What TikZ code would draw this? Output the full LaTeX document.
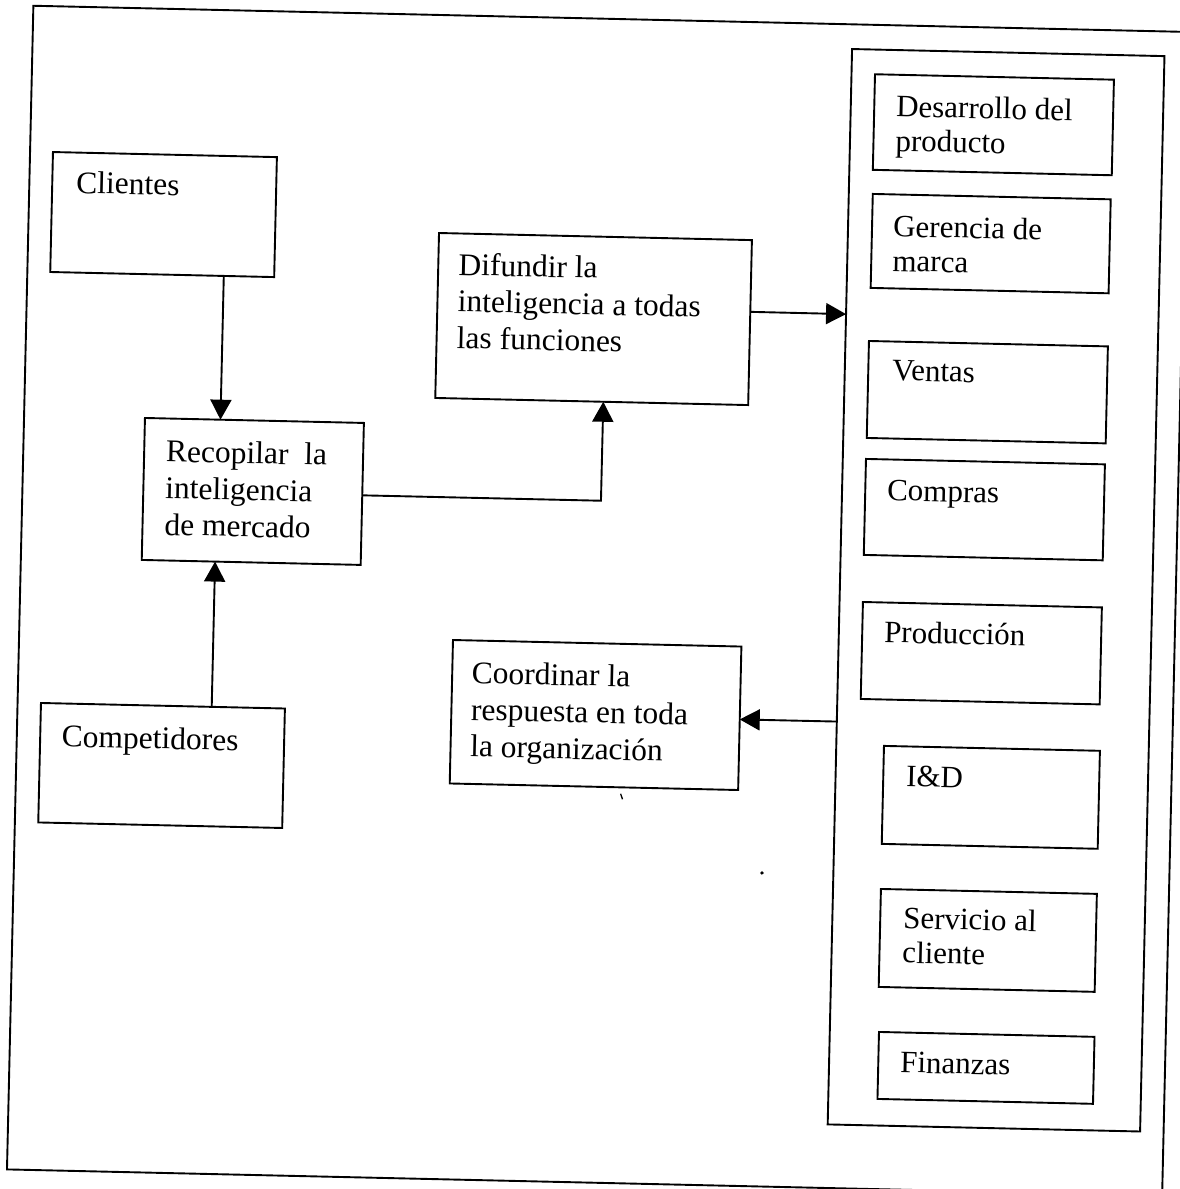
\documentclass[tikz,border=0pt]{standalone}
\usepackage{fontspec}
\setmainfont{Liberation Serif}
\usetikzlibrary{arrows.meta,calc}
% left-aligned stack of lines whose baseline is the first line
\newcommand{\txtlines}[1]{\begin{tabular}[t]{@{}l@{}}#1\end{tabular}}
\begin{document}
\begin{tikzpicture}[x=1pt,y=-1pt,
  box/.style={draw, line width=1.9pt, rectangle, inner sep=0pt, outer sep=0pt, anchor=north west},
  lbl/.style={anchor=base west, inner sep=0pt, outer sep=0pt, font=\fontsize{31.5}{36.7}\selectfont},
  rlbl/.style={lbl, font=\fontsize{31}{34.5}\selectfont},
  link/.style={line width=1.9pt, -{Triangle[length=20pt,width=21pt]}},
]
\useasboundingbox (0,0) rectangle (1180,1189);
\clip (0,0) rectangle (1180,1189);
\begin{scope}[rotate=-1.3, transform shape]
  % outer frame
  \node[box, minimum width=1155.5pt, minimum height=1164pt] (frame) at (33.5,5) {};

  % sources and process steps
  \node[box, minimum width=224pt, minimum height=120pt] (cli) at (56.4,150.8) {};
  \node[box, minimum width=219pt, minimum height=142pt] (rec) at (154.4,414.6) {};
  \node[box, minimum width=313pt, minimum height=165pt] (dif) at (444.2,223) {};
  \node[box, minimum width=288.5pt, minimum height=143.5pt] (coo) at (467.4,629.6) {};
  \node[box, minimum width=244pt, minimum height=119.5pt] (comp) at (56.9,701.9) {};

  % column of functions
  \node[box, minimum width=312.5pt, minimum height=1075.7pt] (col) at (853,29.7) {};
  \node[box, minimum width=239pt, minimum height=95.6pt] (des) at (876.5,54.4) {};
  \node[box, minimum width=238pt, minimum height=94pt] (ger) at (877,174.1) {};
  \node[box, minimum width=239pt, minimum height=97pt] (ven) at (876.5,321.2) {};
  \node[box, minimum width=239pt, minimum height=96pt] (cpr) at (876.2,439.2) {};
  \node[box, minimum width=239pt, minimum height=97pt] (pro) at (876.4,582.3) {};
  \node[box, minimum width=216pt, minimum height=98pt] (iyd) at (900.7,725.7) {};
  \node[box, minimum width=216pt, minimum height=98pt] (ser) at (900.9,868.8) {};
  \node[box, minimum width=215.6pt, minimum height=67pt] (fin) at (902.2,1011.8) {};

  % labels
  \node[lbl] (cliT) at ($(cli.north west)+(24,40.5)$) {Clientes};
  \node[lbl] (recT) at ($(rec.north west)+(22,43.2)$) {\txtlines{Recopilar\ \ la\\inteligencia\\de mercado}};
  \node[lbl] (difT) at ($(dif.north west)+(20.3,41.6)$) {\txtlines{Difundir la\\inteligencia a todas\\las funciones}};
  \node[lbl] (cooT) at ($(coo.north west)+(19.7,42.9)$) {\txtlines{Coordinar la\\respuesta en toda\\la organización}};
  \node[lbl] (compT) at ($(comp.north west)+(21.7,43.2)$) {Competidores};
  \node[rlbl] (desT) at ($(des.north west)+(22,41.8)$) {\txtlines{Desarrollo del\\producto}};
  \node[rlbl] (gerT) at ($(ger.north west)+(21.3,42.2)$) {\txtlines{Gerencia de\\marca}};
  \node[rlbl] (venT) at ($(ven.north west)+(24,39)$) {Ventas};
  \node[rlbl] (cprT) at ($(cpr.north west)+(22,41)$) {Compras};
  \node[rlbl] (proT) at ($(pro.north west)+(22,40)$) {Producción};
  \node[rlbl] (iydT) at ($(iyd.north west)+(23,40)$) {I\&D};
  \node[rlbl] (serT) at ($(ser.north west)+(23,39)$) {\txtlines{Servicio al\\cliente}};
  \node[rlbl] (finT) at ($(fin.north west)+(22,40)$) {Finanzas};

  % connectors
  \draw[link] ($(cli.south west)!0.775!(cli.south east)$) -- ($(rec.north west)!0.345!(rec.north east)$);
  \draw[link] ($(comp.north west)!0.70!(comp.north east)$) -- ($(rec.south west)!0.335!(rec.south east)$);
  \coordinate (bend) at (612.2,487);
  \draw[link] ($(rec.north east)!0.51!(rec.south east)$) -- (bend) -- ($(dif.south west)!0.537!(dif.south east)$);
  \draw[link] ($(dif.north east)!0.435!(dif.south east)$) -- ($(col.north west)!0.2465!(col.south west)$);
  \draw[link] ($(col.north west)!0.6254!(col.south west)$) -- ($(coo.north east)!0.508!(coo.south east)$);

  % specks
  \fill (781.6,855.5) circle (1.8pt);
  \draw[line width=1.3pt] (638.5,779.5) -- (640.5,785);
\end{scope}
\end{tikzpicture}
\end{document}
